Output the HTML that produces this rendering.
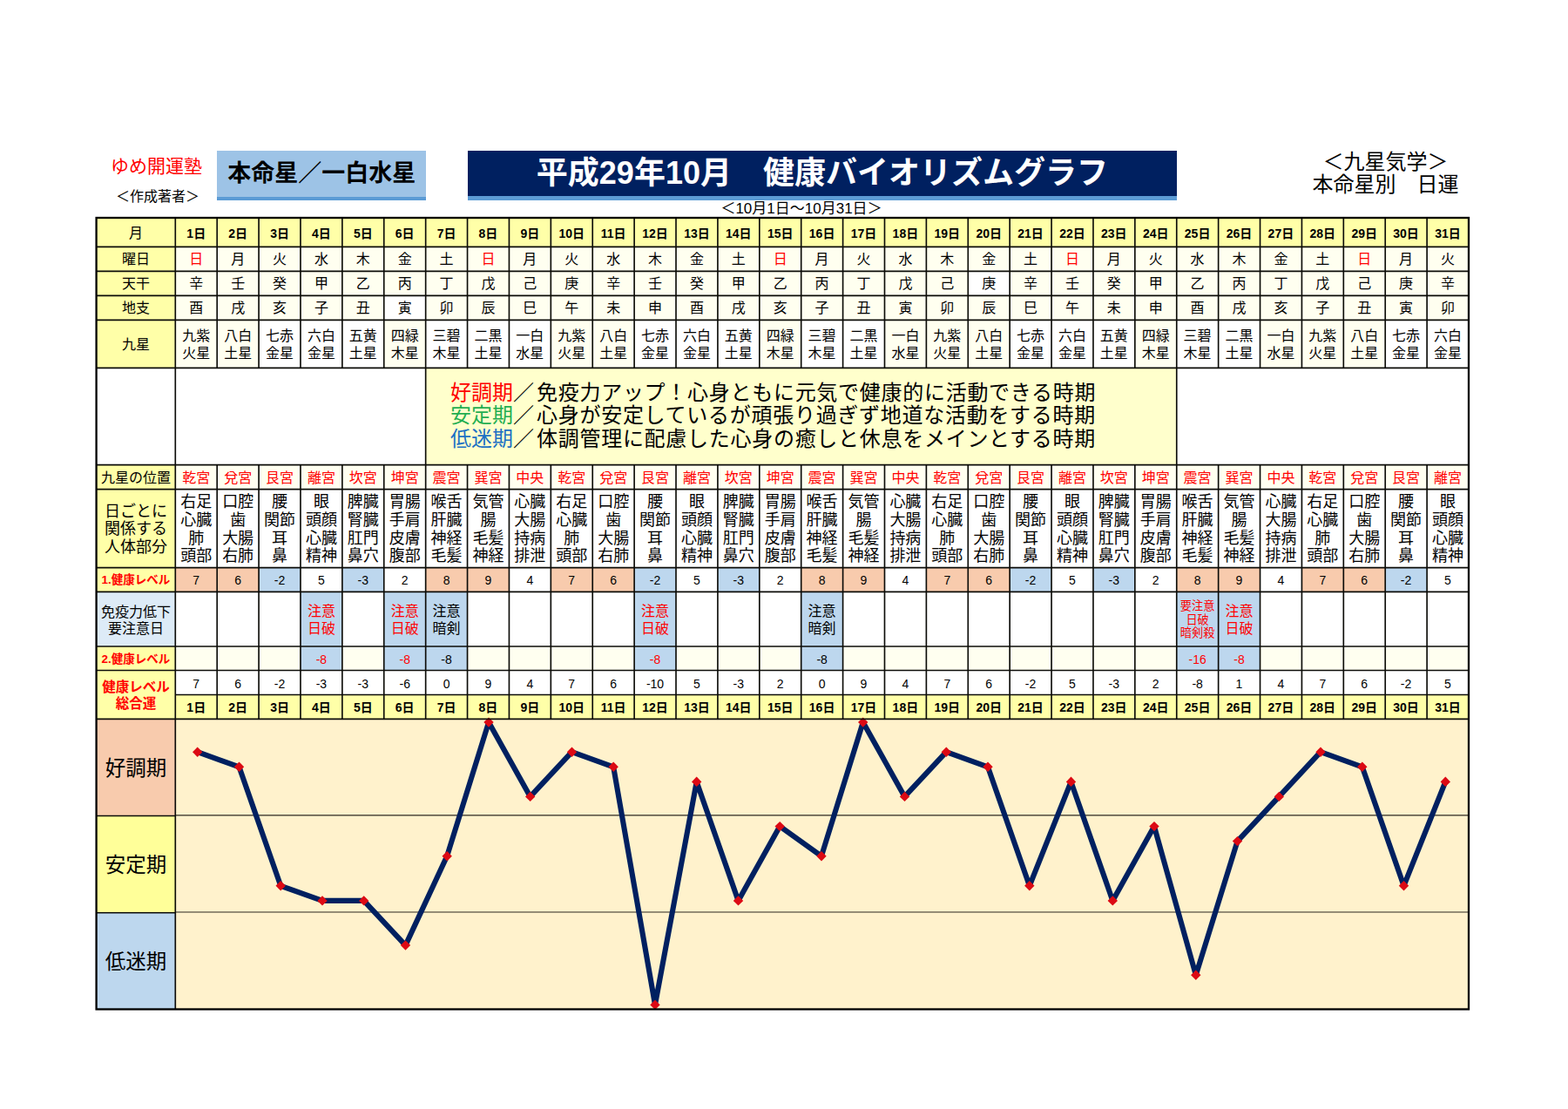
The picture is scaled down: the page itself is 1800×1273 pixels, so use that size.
<!DOCTYPE html>
<html lang="ja">
<head>
<meta charset="utf-8">
<title>平成29年10月 健康バイオリズムグラフ</title>
<style>
html,body{margin:0;padding:0;background:#fff}
body{width:1800px;height:1273px;position:relative;overflow:hidden;font-family:"Liberation Sans","Noto Sans CJK JP",sans-serif;font-size:16px;line-height:20px;color:#000}
.a{position:absolute;white-space:nowrap}
.row{position:absolute;display:flex;left:201.30px;width:1484.70px}
.row>div{flex:1 1 0;min-width:0;display:flex;align-items:center;justify-content:center;text-align:center;white-space:nowrap;overflow:hidden;box-sizing:border-box;padding-top:2px}
.lab{position:absolute;left:110.60px;width:90.70px;display:flex;align-items:center;justify-content:center;text-align:center;white-space:nowrap;overflow:hidden;box-sizing:border-box;padding-top:2px}
.y{background:#FFFFA8}.cr{background:#FFFFF0}.s{background:#F8CBAD}.b{background:#BDD7EE}.w{background:#fff}
.r{color:#FF0000}
svg{position:absolute;left:0;top:0}
</style>
</head>
<body>
<div class="a r" style="left:127px;top:178px;font-size:21px;line-height:26px">ゆめ開運塾</div>
<div class="a" style="left:133px;top:216px;font-size:16px">＜作成著者＞</div>
<div class="a" style="left:249.1px;top:172.6px;width:240.1px;height:57.4px;background:#5B9BD5"></div>
<div class="a" style="left:249.1px;top:172.6px;width:240.1px;height:53.6px;background:#9DC3E6;font-size:27px;line-height:53px;text-align:center;font-weight:bold;overflow:hidden">本命星／一白水星</div>
<div class="a" style="left:536.6px;top:172.6px;width:814.6px;height:57.4px;background:#5B9BD5"></div>
<div class="a" style="left:536.6px;top:172.6px;width:814.6px;height:52.4px;background:#002060;color:#fff;font-size:36px;line-height:52px;text-align:center;font-weight:bold;overflow:hidden">平成29年10月　健康バイオリズムグラフ</div>
<div class="a" style="left:1490px;top:172.6px;width:201px;text-align:center;font-size:24px;line-height:26.7px">＜九星気学＞<br>本命星別　日運</div>
<div class="a" style="left:800px;top:230px;width:240px;text-align:center;font-size:17px">＜10月1日～10月31日＞</div>
<div class="lab y" style="top:250.00px;height:33.30px;">月</div>
<div class="row" style="top:250.00px;height:33.30px;font-weight:bold;font-size:14px"><div class="y">1日</div><div class="y">2日</div><div class="y">3日</div><div class="y">4日</div><div class="y">5日</div><div class="y">6日</div><div class="y">7日</div><div class="y">8日</div><div class="y">9日</div><div class="y">10日</div><div class="y">11日</div><div class="y">12日</div><div class="y">13日</div><div class="y">14日</div><div class="y">15日</div><div class="y">16日</div><div class="y">17日</div><div class="y">18日</div><div class="y">19日</div><div class="y">20日</div><div class="y">21日</div><div class="y">22日</div><div class="y">23日</div><div class="y">24日</div><div class="y">25日</div><div class="y">26日</div><div class="y">27日</div><div class="y">28日</div><div class="y">29日</div><div class="y">30日</div><div class="y">31日</div></div>
<div class="lab y" style="top:283.30px;height:28.00px;">曜日</div>
<div class="row" style="top:283.30px;height:28.00px;"><div class="cr r">日</div><div class="cr">月</div><div class="cr">火</div><div class="cr">水</div><div class="cr">木</div><div class="cr">金</div><div class="cr">土</div><div class="cr r">日</div><div class="cr">月</div><div class="cr">火</div><div class="cr">水</div><div class="cr">木</div><div class="cr">金</div><div class="cr">土</div><div class="cr r">日</div><div class="cr">月</div><div class="cr">火</div><div class="cr">水</div><div class="cr">木</div><div class="cr">金</div><div class="cr">土</div><div class="cr r">日</div><div class="cr">月</div><div class="cr">火</div><div class="cr">水</div><div class="cr">木</div><div class="cr">金</div><div class="cr">土</div><div class="cr r">日</div><div class="cr">月</div><div class="cr">火</div></div>
<div class="lab y" style="top:311.30px;height:28.00px;">天干</div>
<div class="row" style="top:311.30px;height:28.00px;"><div class="cr">辛</div><div class="cr">壬</div><div class="cr">癸</div><div class="cr">甲</div><div class="cr">乙</div><div class="cr">丙</div><div class="cr">丁</div><div class="cr">戊</div><div class="cr">己</div><div class="cr">庚</div><div class="cr">辛</div><div class="cr">壬</div><div class="cr">癸</div><div class="cr">甲</div><div class="cr">乙</div><div class="cr">丙</div><div class="cr">丁</div><div class="cr">戊</div><div class="cr">己</div><div class="w">庚</div><div class="cr">辛</div><div class="cr">壬</div><div class="cr">癸</div><div class="cr">甲</div><div class="cr">乙</div><div class="cr">丙</div><div class="cr">丁</div><div class="cr">戊</div><div class="cr">己</div><div class="cr">庚</div><div class="cr">辛</div></div>
<div class="lab y" style="top:339.30px;height:28.00px;">地支</div>
<div class="row" style="top:339.30px;height:28.00px;"><div class="cr">酉</div><div class="cr">戌</div><div class="cr">亥</div><div class="cr">子</div><div class="cr">丑</div><div class="w">寅</div><div class="cr">卯</div><div class="cr">辰</div><div class="cr">巳</div><div class="cr">午</div><div class="cr">未</div><div class="cr">申</div><div class="cr">酉</div><div class="cr">戌</div><div class="cr">亥</div><div class="cr">子</div><div class="cr">丑</div><div class="cr">寅</div><div class="cr">卯</div><div class="cr">辰</div><div class="cr">巳</div><div class="cr">午</div><div class="cr">未</div><div class="cr">申</div><div class="cr">酉</div><div class="cr">戌</div><div class="cr">亥</div><div class="cr">子</div><div class="cr">丑</div><div class="cr">寅</div><div class="cr">卯</div></div>
<div class="lab y" style="top:367.30px;height:55.10px;">九星</div>
<div class="row" style="top:367.30px;height:55.10px;line-height:19.5px"><div class="cr">九紫<br>火星</div><div class="cr">八白<br>土星</div><div class="w">七赤<br>金星</div><div class="w">六白<br>金星</div><div class="w">五黄<br>土星</div><div class="cr">四緑<br>木星</div><div class="w">三碧<br>木星</div><div class="w">二黒<br>土星</div><div class="w">一白<br>水星</div><div class="cr">九紫<br>火星</div><div class="cr">八白<br>土星</div><div class="w">七赤<br>金星</div><div class="w">六白<br>金星</div><div class="w">五黄<br>土星</div><div class="cr">四緑<br>木星</div><div class="w">三碧<br>木星</div><div class="w">二黒<br>土星</div><div class="cr">一白<br>水星</div><div class="cr">九紫<br>火星</div><div class="cr">八白<br>土星</div><div class="w">七赤<br>金星</div><div class="w">六白<br>金星</div><div class="w">五黄<br>土星</div><div class="cr">四緑<br>木星</div><div class="w">三碧<br>木星</div><div class="w">二黒<br>土星</div><div class="cr">一白<br>水星</div><div class="cr">九紫<br>火星</div><div class="cr">八白<br>土星</div><div class="w">七赤<br>金星</div><div class="w">六白<br>金星</div></div>
<div class="a" style="left:488.66px;top:422.40px;width:862.08px;height:111.20px;background:#FFFFCC"></div>
<div class="a" style="left:517px;top:438px;font-size:24px;line-height:26.3px"><span style="color:#FF0000">好調期</span>／<span style="letter-spacing:0.72px;margin-left:3px">免疫力アップ！心身ともに元気で健康的に活動できる時期</span><br><span style="color:#1FAE51">安定期</span>／<span style="letter-spacing:0.72px;margin-left:3px">心身が安定しているが頑張り過ぎず地道な活動をする時期</span><br><span style="color:#1C70C4">低迷期</span>／<span style="letter-spacing:0.72px;margin-left:3px">体調管理に配慮した心身の癒しと休息をメインとする時期</span></div>
<div class="lab y" style="top:533.60px;height:28.00px;">九星の位置</div>
<div class="row r" style="top:533.60px;height:28.00px;"><div class="cr">乾宮</div><div class="cr">兌宮</div><div class="cr">艮宮</div><div class="cr">離宮</div><div class="cr">坎宮</div><div class="cr">坤宮</div><div class="cr">震宮</div><div class="cr">巽宮</div><div class="cr">中央</div><div class="cr">乾宮</div><div class="cr">兌宮</div><div class="cr">艮宮</div><div class="cr">離宮</div><div class="cr">坎宮</div><div class="cr">坤宮</div><div class="cr">震宮</div><div class="cr">巽宮</div><div class="cr">中央</div><div class="cr">乾宮</div><div class="cr">兌宮</div><div class="cr">艮宮</div><div class="cr">離宮</div><div class="cr">坎宮</div><div class="cr">坤宮</div><div class="cr">震宮</div><div class="cr">巽宮</div><div class="cr">中央</div><div class="cr">乾宮</div><div class="cr">兌宮</div><div class="cr">艮宮</div><div class="cr">離宮</div></div>
<div class="lab y" style="top:561.60px;height:90.00px;font-size:18px;line-height:20.7px">日ごとに<br>関係する<br>人体部分</div>
<div class="row" style="top:561.60px;height:90.00px;font-size:18px;line-height:20.7px"><div class="w">右足<br>心臓<br>肺<br>頭部</div><div class="w">口腔<br>歯<br>大腸<br>右肺</div><div class="w">腰<br>関節<br>耳<br>鼻</div><div class="w">眼<br>頭顔<br>心臓<br>精神</div><div class="w">脾臓<br>腎臓<br>肛門<br>鼻穴</div><div class="w">胃腸<br>手肩<br>皮膚<br>腹部</div><div class="w">喉舌<br>肝臓<br>神経<br>毛髪</div><div class="w">気管<br>腸<br>毛髪<br>神経</div><div class="w">心臓<br>大腸<br>持病<br>排泄</div><div class="w">右足<br>心臓<br>肺<br>頭部</div><div class="w">口腔<br>歯<br>大腸<br>右肺</div><div class="w">腰<br>関節<br>耳<br>鼻</div><div class="w">眼<br>頭顔<br>心臓<br>精神</div><div class="w">脾臓<br>腎臓<br>肛門<br>鼻穴</div><div class="w">胃腸<br>手肩<br>皮膚<br>腹部</div><div class="w">喉舌<br>肝臓<br>神経<br>毛髪</div><div class="w">気管<br>腸<br>毛髪<br>神経</div><div class="w">心臓<br>大腸<br>持病<br>排泄</div><div class="w">右足<br>心臓<br>肺<br>頭部</div><div class="w">口腔<br>歯<br>大腸<br>右肺</div><div class="w">腰<br>関節<br>耳<br>鼻</div><div class="w">眼<br>頭顔<br>心臓<br>精神</div><div class="w">脾臓<br>腎臓<br>肛門<br>鼻穴</div><div class="w">胃腸<br>手肩<br>皮膚<br>腹部</div><div class="w">喉舌<br>肝臓<br>神経<br>毛髪</div><div class="w">気管<br>腸<br>毛髪<br>神経</div><div class="w">心臓<br>大腸<br>持病<br>排泄</div><div class="w">右足<br>心臓<br>肺<br>頭部</div><div class="w">口腔<br>歯<br>大腸<br>右肺</div><div class="w">腰<br>関節<br>耳<br>鼻</div><div class="w">眼<br>頭顔<br>心臓<br>精神</div></div>
<div class="lab y r" style="top:651.60px;height:27.70px;font-size:13.5px;font-weight:bold">1.健康レベル</div>
<div class="row" style="top:651.60px;height:27.70px;font-size:14px"><div class="s">7</div><div class="s">6</div><div class="b">-2</div><div class="w">5</div><div class="b">-3</div><div class="w">2</div><div class="s">8</div><div class="s">9</div><div class="w">4</div><div class="s">7</div><div class="s">6</div><div class="b">-2</div><div class="w">5</div><div class="b">-3</div><div class="w">2</div><div class="s">8</div><div class="s">9</div><div class="w">4</div><div class="s">7</div><div class="s">6</div><div class="b">-2</div><div class="w">5</div><div class="b">-3</div><div class="w">2</div><div class="s">8</div><div class="s">9</div><div class="w">4</div><div class="s">7</div><div class="s">6</div><div class="b">-2</div><div class="w">5</div></div>
<div class="lab " style="top:679.30px;height:62.70px;background:#DDEBF7;line-height:19px">免疫力低下<br>要注意日</div>
<div class="row" style="top:679.30px;height:62.70px;font-size:16px;line-height:19.8px"><div class="w"></div><div class="w"></div><div class="w"></div><div class="b r">注意<br>日破</div><div class="w"></div><div class="b r">注意<br>日破</div><div class="b">注意<br>暗剣</div><div class="w"></div><div class="w"></div><div class="w"></div><div class="w"></div><div class="b r">注意<br>日破</div><div class="w"></div><div class="w"></div><div class="w"></div><div class="b">注意<br>暗剣</div><div class="w"></div><div class="w"></div><div class="w"></div><div class="w"></div><div class="w"></div><div class="w"></div><div class="w"></div><div class="w"></div><div class="b r" style="font-size:13.2px;line-height:15.5px">要注意<br>日破<br>暗剣殺</div><div class="b r">注意<br>日破</div><div class="w"></div><div class="w"></div><div class="w"></div><div class="w"></div><div class="w"></div></div>
<div class="lab y r" style="top:742.00px;height:27.50px;font-size:13.5px;font-weight:bold">2.健康レベル</div>
<div class="row" style="top:742.00px;height:27.50px;font-size:14px"><div class="cr"></div><div class="cr"></div><div class="cr"></div><div class="b r">-8</div><div class="cr"></div><div class="b r">-8</div><div class="b">-8</div><div class="cr"></div><div class="cr"></div><div class="cr"></div><div class="cr"></div><div class="b r">-8</div><div class="cr"></div><div class="cr"></div><div class="cr"></div><div class="b">-8</div><div class="cr"></div><div class="cr"></div><div class="cr"></div><div class="cr"></div><div class="cr"></div><div class="cr"></div><div class="cr"></div><div class="cr"></div><div class="b r">-16</div><div class="b r">-8</div><div class="cr"></div><div class="cr"></div><div class="cr"></div><div class="cr"></div><div class="cr"></div></div>
<div class="lab y r" style="top:769.50px;height:55.90px;font-size:15.5px;line-height:19.4px;font-weight:bold">健康レベル<br>総合運</div>
<div class="row" style="top:769.50px;height:28.00px;font-size:14px"><div class="w">7</div><div class="w">6</div><div class="w">-2</div><div class="w">-3</div><div class="w">-3</div><div class="w">-6</div><div class="w">0</div><div class="w">9</div><div class="w">4</div><div class="w">7</div><div class="w">6</div><div class="w">-10</div><div class="w">5</div><div class="w">-3</div><div class="w">2</div><div class="w">0</div><div class="w">9</div><div class="w">4</div><div class="w">7</div><div class="w">6</div><div class="w">-2</div><div class="w">5</div><div class="w">-3</div><div class="w">2</div><div class="w">-8</div><div class="w">1</div><div class="w">4</div><div class="w">7</div><div class="w">6</div><div class="w">-2</div><div class="w">5</div></div>
<div class="row" style="top:797.50px;height:27.90px;font-weight:bold;font-size:14px"><div class="y">1日</div><div class="y">2日</div><div class="y">3日</div><div class="y">4日</div><div class="y">5日</div><div class="y">6日</div><div class="y">7日</div><div class="y">8日</div><div class="y">9日</div><div class="y">10日</div><div class="y">11日</div><div class="y">12日</div><div class="y">13日</div><div class="y">14日</div><div class="y">15日</div><div class="y">16日</div><div class="y">17日</div><div class="y">18日</div><div class="y">19日</div><div class="y">20日</div><div class="y">21日</div><div class="y">22日</div><div class="y">23日</div><div class="y">24日</div><div class="y">25日</div><div class="y">26日</div><div class="y">27日</div><div class="y">28日</div><div class="y">29日</div><div class="y">30日</div><div class="y">31日</div></div>
<div class="lab s" style="top:825.40px;height:110.60px;font-size:23.5px">好調期</div>
<div class="lab " style="top:936.00px;height:111.20px;font-size:23.5px;background:#FFFF99">安定期</div>
<div class="lab b" style="top:1047.20px;height:111.30px;font-size:23.5px">低迷期</div>
<div class="a" style="left:201.30px;top:825.40px;width:1484.70px;height:333.10px;background:#FFF2CC"></div>
<svg width="1800" height="1273" viewBox="0 0 1800 1273">
<g stroke="#2b2820" stroke-width="1.2"><line x1="201.30" y1="935.90" x2="1686.00" y2="935.90"/><line x1="201.30" y1="1047.00" x2="1686.00" y2="1047.00"/></g>
<polyline points="226.7,863.2 274.5,880.3 322.2,1016.8 370.0,1033.9 417.7,1033.9 465.5,1085.1 513.2,982.7 561.0,829.1 608.7,914.4 656.5,863.2 704.2,880.3 752.0,1153.4 799.7,897.4 847.5,1033.9 895.2,948.6 943.0,982.7 990.7,829.1 1038.5,914.4 1086.3,863.2 1134.0,880.3 1181.8,1016.8 1229.5,897.4 1277.3,1033.9 1325.0,948.6 1372.8,1119.3 1420.5,965.6 1468.3,914.4 1516.0,863.2 1563.8,880.3 1611.5,1016.8 1659.3,897.4" fill="none" stroke="#002060" stroke-width="6.1" stroke-linejoin="round" stroke-linecap="round"/>
<g fill="#DC0A14"><path d="M226.7 857.5L232.4 863.2L226.7 868.9L221.0 863.2Z"/><path d="M274.5 874.6L280.2 880.3L274.5 886.0L268.8 880.3Z"/><path d="M322.2 1011.1L327.9 1016.8L322.2 1022.5L316.5 1016.8Z"/><path d="M370.0 1028.2L375.7 1033.9L370.0 1039.6L364.3 1033.9Z"/><path d="M417.7 1028.2L423.4 1033.9L417.7 1039.6L412.0 1033.9Z"/><path d="M465.5 1079.4L471.2 1085.1L465.5 1090.8L459.8 1085.1Z"/><path d="M513.2 977.0L518.9 982.7L513.2 988.4L507.5 982.7Z"/><path d="M561.0 823.4L566.7 829.1L561.0 834.8L555.3 829.1Z"/><path d="M608.7 908.7L614.4 914.4L608.7 920.1L603.0 914.4Z"/><path d="M656.5 857.5L662.2 863.2L656.5 868.9L650.8 863.2Z"/><path d="M704.2 874.6L709.9 880.3L704.2 886.0L698.5 880.3Z"/><path d="M752.0 1147.7L757.7 1153.4L752.0 1159.1L746.3 1153.4Z"/><path d="M799.7 891.6L805.4 897.4L799.7 903.1L794.0 897.4Z"/><path d="M847.5 1028.2L853.2 1033.9L847.5 1039.6L841.8 1033.9Z"/><path d="M895.2 942.9L900.9 948.6L895.2 954.3L889.5 948.6Z"/><path d="M943.0 977.0L948.7 982.7L943.0 988.4L937.3 982.7Z"/><path d="M990.7 823.4L996.4 829.1L990.7 834.8L985.0 829.1Z"/><path d="M1038.5 908.7L1044.2 914.4L1038.5 920.1L1032.8 914.4Z"/><path d="M1086.3 857.5L1092.0 863.2L1086.3 868.9L1080.6 863.2Z"/><path d="M1134.0 874.6L1139.7 880.3L1134.0 886.0L1128.3 880.3Z"/><path d="M1181.8 1011.1L1187.5 1016.8L1181.8 1022.5L1176.1 1016.8Z"/><path d="M1229.5 891.6L1235.2 897.4L1229.5 903.1L1223.8 897.4Z"/><path d="M1277.3 1028.2L1283.0 1033.9L1277.3 1039.6L1271.6 1033.9Z"/><path d="M1325.0 942.9L1330.7 948.6L1325.0 954.3L1319.3 948.6Z"/><path d="M1372.8 1113.6L1378.5 1119.3L1372.8 1125.0L1367.1 1119.3Z"/><path d="M1420.5 959.9L1426.2 965.6L1420.5 971.3L1414.8 965.6Z"/><path d="M1468.3 908.7L1474.0 914.4L1468.3 920.1L1462.6 914.4Z"/><path d="M1516.0 857.5L1521.7 863.2L1516.0 868.9L1510.3 863.2Z"/><path d="M1563.8 874.6L1569.5 880.3L1563.8 886.0L1558.1 880.3Z"/><path d="M1611.5 1011.1L1617.2 1016.8L1611.5 1022.5L1605.8 1016.8Z"/><path d="M1659.3 891.6L1665.0 897.4L1659.3 903.1L1653.6 897.4Z"/></g>
<g stroke="#0c0c08" stroke-width="1.65"><line x1="110.60" y1="283.30" x2="1686.00" y2="283.30"/><line x1="110.60" y1="311.30" x2="1686.00" y2="311.30"/><line x1="110.60" y1="339.30" x2="1686.00" y2="339.30"/><line x1="110.60" y1="367.30" x2="1686.00" y2="367.30"/><line x1="110.60" y1="422.40" x2="1686.00" y2="422.40"/><line x1="110.60" y1="533.60" x2="1686.00" y2="533.60"/><line x1="110.60" y1="561.60" x2="1686.00" y2="561.60"/><line x1="110.60" y1="651.60" x2="1686.00" y2="651.60"/><line x1="110.60" y1="679.30" x2="1686.00" y2="679.30"/><line x1="110.60" y1="742.00" x2="1686.00" y2="742.00"/><line x1="110.60" y1="769.50" x2="1686.00" y2="769.50"/><line x1="110.60" y1="825.40" x2="1686.00" y2="825.40"/><line x1="201.30" y1="797.50" x2="1686.00" y2="797.50"/><line x1="110.60" y1="936.50" x2="201.30" y2="936.50"/><line x1="110.60" y1="1047.70" x2="201.30" y2="1047.70"/><line x1="201.30" y1="250.00" x2="201.30" y2="1158.50"/><line x1="249.19" y1="250.00" x2="249.19" y2="422.40"/><line x1="249.19" y1="533.60" x2="249.19" y2="825.40"/><line x1="297.09" y1="250.00" x2="297.09" y2="422.40"/><line x1="297.09" y1="533.60" x2="297.09" y2="825.40"/><line x1="344.98" y1="250.00" x2="344.98" y2="422.40"/><line x1="344.98" y1="533.60" x2="344.98" y2="825.40"/><line x1="392.87" y1="250.00" x2="392.87" y2="422.40"/><line x1="392.87" y1="533.60" x2="392.87" y2="825.40"/><line x1="440.77" y1="250.00" x2="440.77" y2="422.40"/><line x1="440.77" y1="533.60" x2="440.77" y2="825.40"/><line x1="488.66" y1="250.00" x2="488.66" y2="422.40"/><line x1="488.66" y1="533.60" x2="488.66" y2="825.40"/><line x1="488.66" y1="422.40" x2="488.66" y2="533.60"/><line x1="536.55" y1="250.00" x2="536.55" y2="422.40"/><line x1="536.55" y1="533.60" x2="536.55" y2="825.40"/><line x1="584.45" y1="250.00" x2="584.45" y2="422.40"/><line x1="584.45" y1="533.60" x2="584.45" y2="825.40"/><line x1="632.34" y1="250.00" x2="632.34" y2="422.40"/><line x1="632.34" y1="533.60" x2="632.34" y2="825.40"/><line x1="680.24" y1="250.00" x2="680.24" y2="422.40"/><line x1="680.24" y1="533.60" x2="680.24" y2="825.40"/><line x1="728.13" y1="250.00" x2="728.13" y2="422.40"/><line x1="728.13" y1="533.60" x2="728.13" y2="825.40"/><line x1="776.02" y1="250.00" x2="776.02" y2="422.40"/><line x1="776.02" y1="533.60" x2="776.02" y2="825.40"/><line x1="823.92" y1="250.00" x2="823.92" y2="422.40"/><line x1="823.92" y1="533.60" x2="823.92" y2="825.40"/><line x1="871.81" y1="250.00" x2="871.81" y2="422.40"/><line x1="871.81" y1="533.60" x2="871.81" y2="825.40"/><line x1="919.70" y1="250.00" x2="919.70" y2="422.40"/><line x1="919.70" y1="533.60" x2="919.70" y2="825.40"/><line x1="967.60" y1="250.00" x2="967.60" y2="422.40"/><line x1="967.60" y1="533.60" x2="967.60" y2="825.40"/><line x1="1015.49" y1="250.00" x2="1015.49" y2="422.40"/><line x1="1015.49" y1="533.60" x2="1015.49" y2="825.40"/><line x1="1063.38" y1="250.00" x2="1063.38" y2="422.40"/><line x1="1063.38" y1="533.60" x2="1063.38" y2="825.40"/><line x1="1111.28" y1="250.00" x2="1111.28" y2="422.40"/><line x1="1111.28" y1="533.60" x2="1111.28" y2="825.40"/><line x1="1159.17" y1="250.00" x2="1159.17" y2="422.40"/><line x1="1159.17" y1="533.60" x2="1159.17" y2="825.40"/><line x1="1207.06" y1="250.00" x2="1207.06" y2="422.40"/><line x1="1207.06" y1="533.60" x2="1207.06" y2="825.40"/><line x1="1254.96" y1="250.00" x2="1254.96" y2="422.40"/><line x1="1254.96" y1="533.60" x2="1254.96" y2="825.40"/><line x1="1302.85" y1="250.00" x2="1302.85" y2="422.40"/><line x1="1302.85" y1="533.60" x2="1302.85" y2="825.40"/><line x1="1350.75" y1="250.00" x2="1350.75" y2="422.40"/><line x1="1350.75" y1="533.60" x2="1350.75" y2="825.40"/><line x1="1350.75" y1="422.40" x2="1350.75" y2="533.60"/><line x1="1398.64" y1="250.00" x2="1398.64" y2="422.40"/><line x1="1398.64" y1="533.60" x2="1398.64" y2="825.40"/><line x1="1446.53" y1="250.00" x2="1446.53" y2="422.40"/><line x1="1446.53" y1="533.60" x2="1446.53" y2="825.40"/><line x1="1494.43" y1="250.00" x2="1494.43" y2="422.40"/><line x1="1494.43" y1="533.60" x2="1494.43" y2="825.40"/><line x1="1542.32" y1="250.00" x2="1542.32" y2="422.40"/><line x1="1542.32" y1="533.60" x2="1542.32" y2="825.40"/><line x1="1590.21" y1="250.00" x2="1590.21" y2="422.40"/><line x1="1590.21" y1="533.60" x2="1590.21" y2="825.40"/><line x1="1638.11" y1="250.00" x2="1638.11" y2="422.40"/><line x1="1638.11" y1="533.60" x2="1638.11" y2="825.40"/></g>
<rect x="110.60" y="250.00" width="1575.40" height="908.50" fill="none" stroke="#000" stroke-width="2.3"/>
</svg>
</body>
</html>
